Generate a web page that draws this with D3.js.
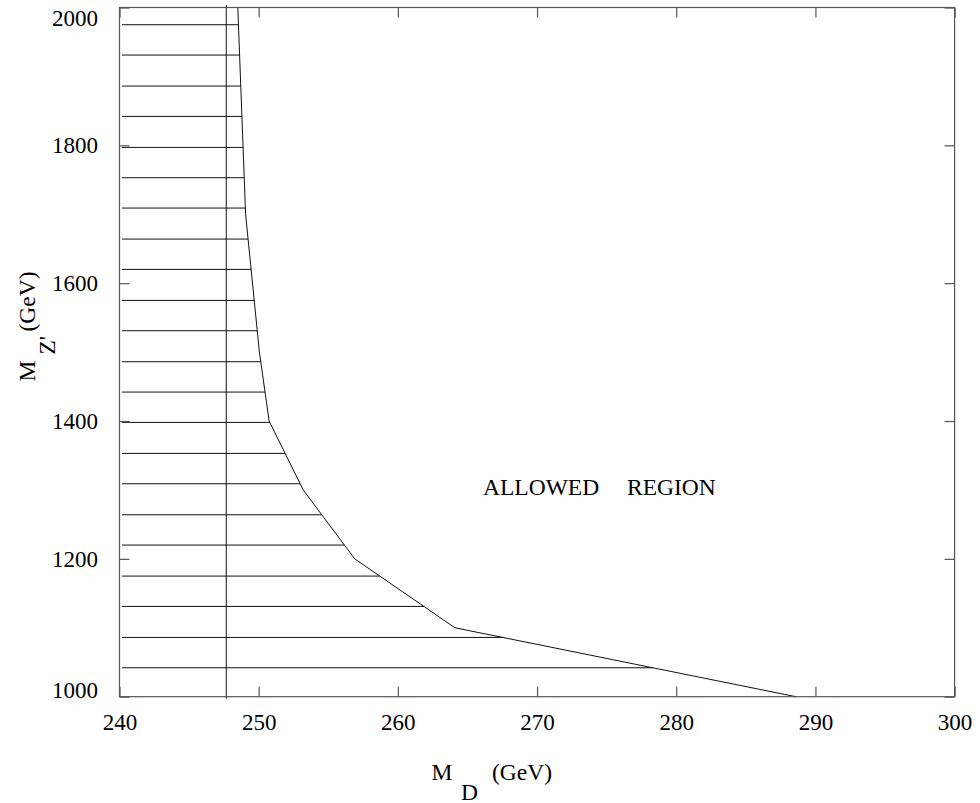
<!DOCTYPE html>
<html>
<head>
<meta charset="utf-8">
<script src="https://cdn.jsdelivr.net/npm/d3@7"></script>
<style>
  body { margin: 0; background: #fff; }
  svg, text { font-family: "Liberation Serif", "Times New Roman", "DejaVu Serif", serif; }
</style>
</head>
<body>
<div id="chart"></div>
<script>
// boundary of excluded region: M_D (GeV) vs M_Z' (GeV)
const boundaryMD = [288.6, 264.1, 256.9, 253.2, 250.75, 250.05, 249.06, 248.5];
const boundaryMZ = [1000, 1100, 1200, 1300, 1400, 1500, 1700, 2000];

// horizontal hatching of excluded region (M_Z' values)
const hatchMZ = [1042, 1086, 1131, 1175, 1220, 1264, 1309, 1353, 1398, 1442, 1486,
                 1531, 1575, 1620, 1664, 1709, 1753, 1797, 1842, 1886, 1931, 1975];

// vertical bound on M_D
const verticalMD = 247.67;

const xTicks = [240, 250, 260, 270, 280, 290, 300];
const yTicks = [1000, 1200, 1400, 1600, 1800, 2000];

const width = 980;
const height = 803;
const plotLeft = 119.5, plotRight = 954.6, plotTop = 7.5, plotBottom = 696.7;
const serif = "'Liberation Serif', 'Times New Roman', serif";

const svg = d3.select("#chart").append("svg")
  .attr("width", width)
  .attr("height", height)
  .attr("font-family", serif);

const x = d3.scaleLinear().domain([240, 300]).range([plotLeft, plotRight]);
const y = d3.scaleLinear().domain([1000, 2000]).range([plotBottom, plotTop]);

// boundary x at a given M_Z' (linear between points)
function boundaryAt(mz) {
  for (let i = 0; i < boundaryMZ.length - 1; i++) {
    const a = boundaryMZ[i], b = boundaryMZ[i + 1];
    if (mz >= a && mz <= b) {
      const t = (mz - a) / (b - a);
      return boundaryMD[i] + t * (boundaryMD[i + 1] - boundaryMD[i]);
    }
  }
  return boundaryMD[boundaryMD.length - 1];
}

// hatching
svg.append("g")
  .selectAll("line")
  .data(hatchMZ)
  .enter()
  .append("line")
  .attr("x1", x(240) + 2.5)
  .attr("x2", d => x(boundaryAt(d)))
  .attr("y1", d => y(d))
  .attr("y2", d => y(d))
  .attr("stroke", "#111")
  .attr("stroke-width", 1);

// vertical line
svg.append("line")
  .attr("x1", x(verticalMD))
  .attr("x2", x(verticalMD))
  .attr("y1", y(2000) - 2.5)
  .attr("y2", y(1000) + 2)
  .attr("stroke", "#111")
  .attr("stroke-width", 1);

// boundary curve
const line = d3.line()
  .x(d => x(d[0]))
  .y(d => y(d[1]));

svg.append("path")
  .datum(boundaryMD.map((d, i) => [d, boundaryMZ[i]]))
  .attr("d", line)
  .attr("fill", "none")
  .attr("stroke", "#111")
  .attr("stroke-width", 1);

// axes with inward ticks
const fmt = d3.format("d");

const xAxis = svg.append("g")
  .attr("transform", `translate(0, ${plotBottom})`)
  .call(d3.axisBottom(x).tickValues(xTicks).tickFormat(fmt).tickSize(-10).tickSizeOuter(0).tickPadding(17));

const yAxis = svg.append("g")
  .attr("transform", `translate(${plotLeft}, 0)`)
  .call(d3.axisLeft(y).tickValues(yTicks).tickFormat(fmt).tickSize(-10).tickSizeOuter(0).tickPadding(21.5));

svg.append("g")
  .attr("transform", `translate(0, ${plotTop})`)
  .call(d3.axisTop(x).tickValues(xTicks).tickSize(-10).tickSizeOuter(0).tickFormat(""));

svg.append("g")
  .attr("transform", `translate(${plotRight}, 0)`)
  .call(d3.axisRight(y).tickValues(yTicks).tickSize(-10).tickSizeOuter(0).tickFormat(""));

svg.selectAll(".domain").remove();
svg.selectAll("g").attr("font-family", serif);
svg.selectAll(".tick line").attr("stroke", "#555").attr("stroke-width", 1.2);
svg.selectAll(".tick text")
  .attr("font-size", "23px")
  .attr("fill", "#000");

// keep end labels inside the frame
yAxis.selectAll(".tick text")
  .attr("dy", d => d === 2000 ? "0.78em" : d === 1000 ? "0.05em" : "0.32em");

// frame
svg.append("rect")
  .attr("x", plotLeft)
  .attr("y", plotTop)
  .attr("width", plotRight - plotLeft)
  .attr("height", plotBottom - plotTop)
  .attr("fill", "none")
  .attr("stroke", "#555")
  .attr("stroke-width", 1.2);

// region label
const allowed = svg.append("text")
  .attr("x", 483)
  .attr("y", 495)
  .attr("font-size", "23.5px");
allowed.append("tspan").text("ALLOWED");
allowed.append("tspan").attr("x", 627).text("REGION");

// x axis title
const xTitle = svg.append("text")
  .attr("x", 431.5)
  .attr("y", 780)
  .attr("font-size", "23.5px");
xTitle.append("tspan").text("M");
xTitle.append("tspan").attr("x", 461).attr("dy", 19.5).text("D");
xTitle.append("tspan").attr("x", 492).attr("dy", -19.5).text("(GeV)");

// y axis title
const yTitle = svg.append("text")
  .attr("transform", "translate(35, 381.5) rotate(-90)")
  .attr("font-size", "23.5px");
yTitle.append("tspan").attr("x", 0).text("M");
yTitle.append("tspan").attr("x", 27).attr("dy", 20).text("Z'");
yTitle.append("tspan").attr("x", 50).attr("dy", -20).text("(GeV)");
</script>
</body>
</html>
